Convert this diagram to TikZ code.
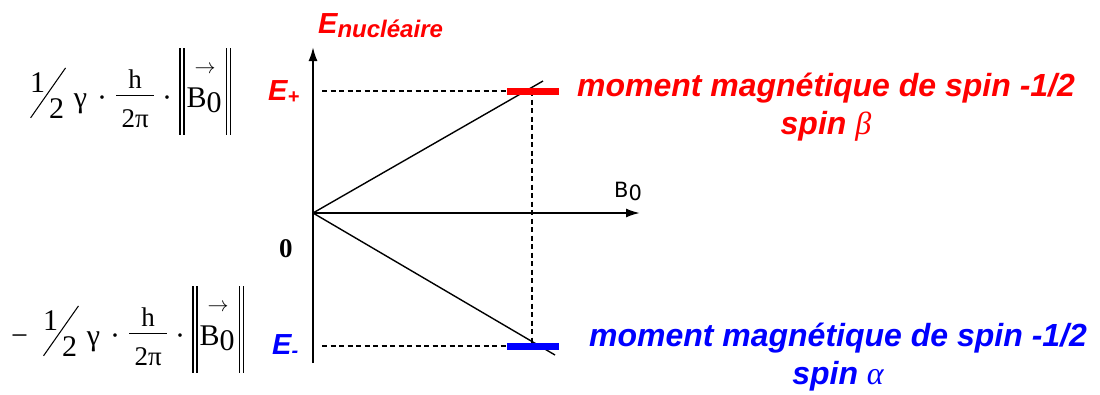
\documentclass[tikz,border=0pt]{standalone}
\usepackage{amsmath}
\usepackage{fontspec}
\setmainfont{Liberation Serif}
\setsansfont{Liberation Sans}
\newfontfamily\axisfont{DejaVu Sans}
\usetikzlibrary{arrows.meta,positioning}
\definecolor{upred}{RGB}{255,0,0}
\definecolor{lowblue}{RGB}{0,0,255}
% pieces of the level formula
\newcommand{\halfslash}{\rlap{\raisebox{0.5em}{1}}\rlap{\kern0.63em\raisebox{-0.37em}{2}}\raisebox{-0.37em}{\rotatebox{55}{\rule{2.03em}{0.035em}}}}
\newcommand{\hfrac}{\raisebox{-20pt}{\fontsize{27}{27}\selectfont\vbox{\hbox to 38pt{\hfil h\hfil}\kern7pt\hrule height 1pt\kern13pt\hbox to 38pt{\hfil 2π\hfil}}}}
\newcommand{\normbar}{\rule[-0.93em]{1.5pt}{2.9em}\kern2.5pt\rule[-0.93em]{1.5pt}{2.9em}}
\newcommand{\vecbzero}{\rlap{\kern8pt\raisebox{34pt}{\resizebox{21pt}{!}{$\rightarrow$}}}B\raisebox{-0.17em}{0}}
\newcommand{\zeemanterm}{\halfslash\kern8pt γ\kern10pt·\kern9pt\hfrac\kern8pt·\kern7pt\normbar\kern2pt\vecbzero\kern4pt\normbar}

\begin{document}
\begin{tikzpicture}[x=1pt,y=-1pt,>={Latex[length=14pt,width=9pt]},
  every node/.style={inner sep=0pt},
  axisline/.style={line width=2pt,->},
  energyline/.style={line width=1.4pt},
  guide/.style={line width=1.4pt,dash pattern=on 5pt off 3.5pt},
  level/.style={line width=7pt},
  elabel/.style={font=\sffamily\bfseries\itshape\fontsize{29}{34}\selectfont},
  spinlabel/.style={font=\sffamily\bfseries\itshape\fontsize{32}{38}\selectfont,align=center},
  formula/.style={font=\fontsize{30}{34}\selectfont,anchor=base west}]
  \useasboundingbox (0,0) rectangle (1100,394);
  % axes
  \coordinate (O) at (313,213);
  \coordinate (ytop) at (313,47);
  \coordinate (ybot) at (313,363);
  \coordinate (xend) at (640,213);
  \draw[axisline] (ybot) -- (ytop);
  \draw[axisline] (O) -- (xend);
  \node[elabel,text=upred,anchor=base west] (enuc) at (318,33) {E\raisebox{-0.3ex}{\fontsize{24}{24}\selectfont nucléaire}};
  \node[font=\axisfont\fontsize{21}{24}\selectfont,anchor=base west] (b0) at (614,197) {B\raisebox{-0.3ex}{0}};
  \node[font=\bfseries\fontsize{27}{30}\selectfont,anchor=base west] (zero) at (279,257) {0};
  % levels
  \coordinate (lvltop) at (532,91);
  \coordinate (lvlbot) at (532,346);
  \coordinate (dtop) at (322,91);
  \coordinate (dbot) at (322,346);
  \coordinate (uend) at (543,81);
  \coordinate (lend) at (555,355);
  \draw[energyline] (O) -- (uend);
  \draw[energyline] (O) -- (lend);
  \draw[guide] (dtop) -- (507,91);
  \draw[guide] (dbot) -- (507,346);
  \draw[guide] (lvltop) -- (lvlbot);
  \draw[level,upred] (507,91) -- (559,91);
  \draw[level,lowblue] (507,346) -- (559,346);
  \node[elabel,text=upred,anchor=base west] (eplus) at (268,100) {E\raisebox{-0.25ex}{\fontsize{20}{20}\selectfont +}};
  \node[elabel,text=lowblue,anchor=base west] (eminus) at (272,354) {E\raisebox{-0.25ex}{\fontsize{20}{20}\selectfont -}};
  % texts
  \node[spinlabel,text=upred,anchor=base] (spinb) at (826,134) {moment magnétique de spin -1/2\\spin {\rmfamily\mdseries\itshape β}};
  \node[spinlabel,text=lowblue,anchor=base] (spina) at (838,384) {moment magnétique de spin -1/2\\spin {\rmfamily\mdseries\itshape α}};
  \node[formula] (ftop) at (30,107) {\zeemanterm};
  \node[formula] (fbot) at (11,345) {−\kern0.5em\zeemanterm};
\end{tikzpicture}
\end{document}
